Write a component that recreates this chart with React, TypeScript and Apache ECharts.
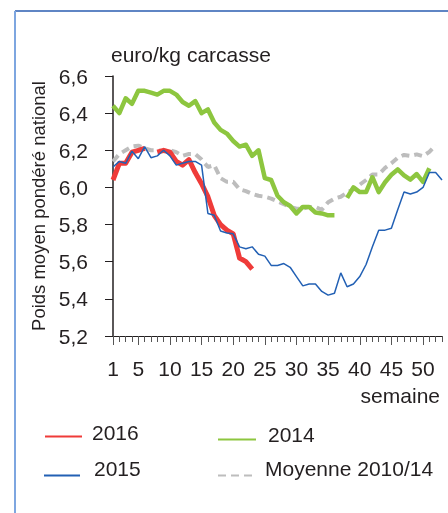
import React, { useEffect, useRef } from "react";
import * as echarts from "echarts";

const weeks = [
  "1", "2", "3", "4", "5", "6", "7", "8", "9", "10",
  "11", "12", "13", "14", "15", "16", "17", "18", "19", "20",
  "21", "22", "23", "24", "25", "26", "27", "28", "29", "30",
  "31", "32", "33", "34", "35", "36", "37", "38", "39", "40",
  "41", "42", "43", "44", "45", "46", "47", "48", "49", "50",
  "51", "52", "53",
];

const s2016 = [
  6.04, 6.13, 6.13, 6.19, 6.2, 6.21, null, 6.19, 6.2, 6.19,
  6.14, 6.12, 6.15, 6.08, 6.02, 5.95, 5.85, 5.8, 5.77, 5.75,
  5.62, 5.6, 5.56,
];

const s2015 = [
  6.11, 6.14, 6.13, 6.195, 6.155, 6.22, 6.16, 6.17, 6.2, 6.17,
  6.12, 6.13, 6.14, 6.14, 6.12, 5.86, 5.85, 5.765, 5.755, 5.75,
  5.68, 5.67, 5.68, 5.64, 5.63, 5.58, 5.58, 5.59, 5.57, 5.52,
  5.47, 5.48, 5.48, 5.44, 5.42, 5.43, 5.54, 5.465, 5.48, 5.52,
  5.585, 5.68, 5.77, 5.77, 5.78, 5.88, 5.975, 5.965, 5.975, 6.0,
  6.08, 6.08, 6.04,
];

const s2014 = [
  6.44, 6.4, 6.48, 6.45, 6.52, 6.52, 6.51, 6.5, 6.52, 6.52,
  6.5, 6.46, 6.44, 6.465, 6.4, 6.42, 6.35, 6.31, 6.29, 6.25,
  6.22, 6.23, 6.17, 6.2, 6.05, 6.04, 5.955, 5.92, 5.9, 5.86,
  5.895, 5.895, 5.865, 5.86, 5.85, 5.85, null, 5.944, 6.0, 5.975,
  5.975, 6.055, 5.975, 6.028, 6.068, 6.097, 6.065, 6.042, 6.072, 6.03,
  6.103,
];

const sMoyenne = [
  6.14, 6.18, 6.2, 6.22, 6.225, 6.21, 6.2, 6.2, 6.195, 6.2,
  6.19, 6.17, 6.18, 6.18, 6.15, 6.11, 6.12, 6.05, 6.03, 6.03,
  5.99, 5.98, 5.965, 5.955, 5.95, 5.94, 5.925, 5.91, 5.895, 5.885,
  5.885, 5.895, 5.895, 5.88, 5.92, 5.94, 5.95, 5.972, 5.99, 6.015,
  6.04, 6.07, 6.07, 6.105, 6.13, 6.16, 6.175, 6.17, 6.178, 6.168,
  6.192, 6.228,
];

const yTicks = { min: 5.2, max: 6.6, interval: 0.2 };

const TXT = "#231f20";
const FONT = "'Liberation Sans', Arial, sans-serif";

const isMajor = (i: number) => i === 0 || (i + 1) % 5 === 0;

function legendItem(
  name: string,
  left: number,
  top: number,
  width: number,
  padLeft: number,
  lift: number
) {
  return {
    data: [name],
    left,
    top,
    padding: 0,
    itemWidth: width,
    itemHeight: 14,
    selectedMode: false,
    itemStyle: { opacity: 0 },
    formatter: "{a|{name}}\n{b| }",
    textStyle: {
      rich: {
        a: { fontSize: 21, color: TXT, fontFamily: FONT, padding: [0, 0, 0, padLeft] },
        b: { fontSize: 1, lineHeight: lift },
      },
    },
  };
}

export default function App() {
  const ref = useRef<HTMLDivElement>(null);
  useEffect(() => {
    if (!ref.current) return;
    const chart = echarts.init(ref.current, null, { renderer: "svg" });
    chart.setOption({
      animation: false,
      textStyle: { fontFamily: FONT },
      title: {
        text: "euro/kg carcasse",
        left: 111,
        top: 44,
        padding: 0,
        textStyle: { fontSize: 21, fontWeight: "normal", color: TXT, fontFamily: FONT },
      },
      grid: { left: 113, top: 76, right: 6, bottom: 177, containLabel: false },
      legend: [
        legendItem("2016", 44, 422, 37, 5, 8),
        legendItem("2015", 43, 458, 36, 9, 14),
        legendItem("2014", 217, 424, 38, 7, 10),
        legendItem("Moyenne 2010/14", 217, 458, 38, 4, 14),
      ],
      xAxis: [
        {
          type: "category",
          data: weeks,
          position: "bottom",
          boundaryGap: false,
          axisLine: { lineStyle: { color: TXT, width: 1.2 } },
          axisTick: { interval: 0, length: 6, lineStyle: { color: "#555", width: 1 } },
          axisLabel: {
            interval: (i: number) => isMajor(i),
            margin: 22,
            fontSize: 21,
            color: TXT,
            fontFamily: FONT,
          },
          splitLine: { show: false },
        },
        {
          type: "category",
          data: weeks,
          position: "bottom",
          boundaryGap: false,
          axisLine: { show: false },
          axisTick: {
            interval: (i: number) => isMajor(i),
            length: 9,
            lineStyle: { color: "#555", width: 1 },
          },
          axisLabel: { show: false },
          splitLine: { show: false },
        },
      ],
      yAxis: {
        type: "value",
        min: yTicks.min,
        max: yTicks.max,
        interval: yTicks.interval,
        name: "Poids moyen pondéré national",
        nameLocation: "middle",
        nameRotate: 90,
        nameGap: 64,
        nameTextStyle: { fontSize: 18.5, color: TXT, fontFamily: FONT },
        axisLine: { show: true, lineStyle: { color: TXT, width: 1.5 } },
        axisTick: { show: true, length: 8, lineStyle: { color: TXT, width: 1 } },
        axisLabel: {
          margin: 25,
          fontSize: 21,
          color: TXT,
          fontFamily: FONT,
          formatter: (v: number) => v.toFixed(1).replace(".", ","),
        },
        splitLine: { show: false },
      },
      series: [
        {
          name: "Moyenne 2010/14",
          type: "line",
          data: sMoyenne,
          symbol: "none",
          z: 1,
          lineStyle: { color: "#bdbdbd", width: 4, type: [8, 5] },
          itemStyle: { color: "#bdbdbd" },
        },
        {
          name: "2014",
          type: "line",
          data: s2014,
          symbol: "none",
          z: 2,
          lineStyle: { color: "#8dc63f", width: 4.5, join: "round" },
          itemStyle: { color: "#8dc63f" },
        },
        {
          name: "2016",
          type: "line",
          data: s2016,
          symbol: "none",
          z: 3,
          lineStyle: { color: "#ef3b39", width: 5, join: "round" },
          itemStyle: { color: "#ef3b39" },
        },
        {
          name: "2015",
          type: "line",
          data: s2015,
          symbol: "none",
          z: 4,
          lineStyle: { color: "#2260b4", width: 1.5 },
          itemStyle: { color: "#2260b4" },
        },
      ],
      graphic: [
        {
          type: "line",
          shape: { x1: 15, y1: 11, x2: 460, y2: 11 },
          style: { stroke: "#2a5db0", lineWidth: 1.5 },
          silent: true,
        },
        {
          type: "line",
          shape: { x1: 15, y1: 11, x2: 15, y2: 520 },
          style: { stroke: "#7ea6e0", lineWidth: 2 },
          silent: true,
        },
        {
          type: "text",
          x: 440,
          y: 395,
          style: {
            text: "semaine",
            fontSize: 21,
            fill: TXT,
            fontFamily: FONT,
            textAlign: "right",
            textVerticalAlign: "middle",
          },
          silent: true,
        },
      ],
    });
    return () => chart.dispose();
  }, []);
  return (
    <div
      ref={ref}
      style={{ position: "fixed", left: 0, top: 0, width: 448, height: 513 }}
    />
  );
}
